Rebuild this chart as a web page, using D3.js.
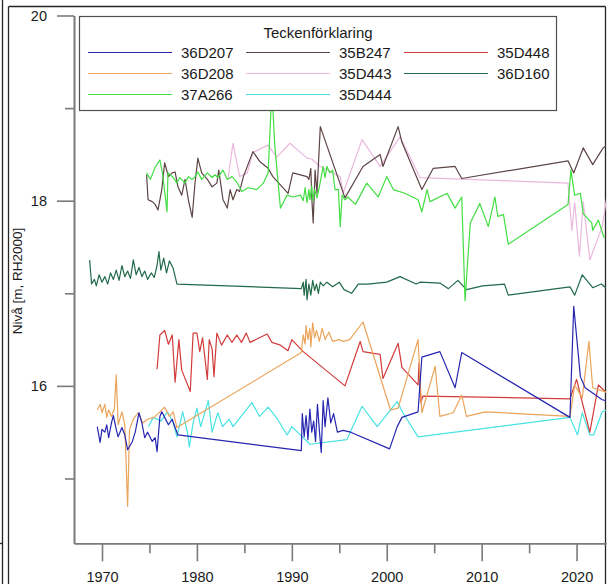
<!DOCTYPE html>
<html>
<head>
<meta charset="utf-8">
<script src="https://cdn.jsdelivr.net/npm/d3@7"></script>
<style>
  body { margin: 0; background: #fff; }
  svg { display: block; font-family: "Liberation Sans", Arial, sans-serif; }
</style>
</head>
<body>
<div id="chart"></div>
<script>
// stations, in legend order (row by row)
const stations = ["36D207", "35B247", "35D448", "36D208", "35D443", "36D160", "37A266", "35D444"];

// [year, level m RH2000]
const s36D207 = [[1969.5,15.56],[1969.8,15.39],[1970.0,15.53],[1970.3,15.5],[1970.5,15.58],[1970.7,15.44],[1971.0,15.6],[1971.2,15.68],[1971.5,15.53],[1971.7,15.45],[1972.1,15.55],[1972.4,15.47],[1972.7,15.31],[1973.2,15.4],[1973.5,15.5],[1973.9,15.71],[1974.2,15.6],[1974.5,15.44],[1974.8,15.5],[1975.3,15.4],[1975.6,15.44],[1975.8,15.29],[1976.1,15.67],[1976.3,15.72],[1976.6,15.66],[1977.0,15.58],[1977.4,15.64],[1977.7,15.55],[1978.0,15.47],
  [1991.0,15.3],[1991.1,15.7],[1991.3,15.45],[1991.5,15.68],[1991.7,15.42],[1991.9,15.75],[1992.1,15.5],[1992.3,15.62],[1992.5,15.4],[1992.7,15.8],[1992.9,15.52],[1993.1,15.28],[1993.3,15.84],[1993.5,15.56],[1993.8,15.87],[1994.1,15.6],[1994.4,15.7],[1994.8,15.5],[1995.4,15.52],[1996.2,15.5],
  [2000.3,15.32],[2001.1,15.56],[2001.6,15.66],[2003.3,15.72],[2003.7,16.31],[2005.6,16.37],[2007.2,15.98],[2007.9,16.36],[2019.3,15.66],[2019.7,16.86],[2020.4,16.1],[2020.9,15.98],[2022.7,15.85],[2023.2,15.84]];

const s36D208 = [[1969.5,15.74],[1969.8,15.8],[1970.0,15.71],[1970.3,15.8],[1970.5,15.66],[1970.7,15.74],[1971.0,15.67],[1971.3,15.75],[1971.5,16.12],[1971.7,15.58],[1972.1,15.72],[1972.4,15.58],[1972.7,14.7],[1972.9,15.53],[1973.3,15.64],[1973.8,15.71],[1974.3,15.6],[1974.8,15.64],[1975.5,15.66],[1976.1,15.72],[1976.6,15.77],[1977.1,15.67],[1977.5,15.72],[1977.9,15.55],
  [1991.0,16.36],[1991.2,16.55],[1991.4,16.45],[1991.5,16.65],[1991.7,16.5],[1991.9,16.62],[1992.0,16.42],[1992.2,16.68],[1992.4,16.52],[1992.6,16.6],[1992.9,16.48],[1993.2,16.62],[1993.5,16.5],[1993.9,16.58],[1994.3,16.48],[1995.0,16.5],[1995.4,16.48],[1996.1,16.5],[1997.5,16.69],
  [2000.4,15.74],[2001.2,15.76],[2003.3,16.5],[2003.7,15.71],[2005.1,16.21],[2005.6,15.67],[2007.0,15.71],[2007.9,15.9],[2008.4,15.67],[2010.4,15.72],[2019.3,15.67],[2019.8,16.01],[2020.6,15.87],[2021.3,16.48],[2021.7,15.98],[2023.2,15.93]];

const s35D448 = [[1975.8,16.18],[1976.1,16.55],[1976.6,16.6],[1977.0,16.45],[1977.4,16.55],[1977.7,16.04],[1978.1,16.5],[1978.4,16.17],[1979.3,15.94],[1979.6,16.57],[1980.0,16.57],[1980.3,16.37],[1980.6,16.52],[1981.1,16.07],[1981.3,16.5],[1981.6,16.4],[1981.8,16.1],[1982.1,16.57],[1982.6,16.44],[1983.2,16.55],[1983.7,16.47],[1984.2,16.55],[1984.7,16.47],[1985.2,16.57],[1985.6,16.47],[1987.4,16.56],[1987.9,16.47],[1988.8,16.44],[1989.6,16.38],[1990.0,16.5],[1991.2,16.37],
  [1995.6,16.0],[1997.2,16.48],[1997.5,16.37],[1999.3,16.34],[1999.6,16.08],[2001.2,16.46],[2001.6,16.2],[2003.3,16.01],[2003.4,16.25],[2003.6,15.82],[2003.8,15.89],[2019.3,15.86],[2020.0,16.07],[2020.7,15.78],[2021.4,15.5],[2022.3,16.01],[2023.2,15.92]];

const s35B247 = [[1974.7,18.28],[1974.85,18.01],[1975.3,17.99],[1975.6,17.96],[1975.9,17.9],[1976.3,18.12],[1976.6,18.41],[1977.0,18.26],[1977.4,18.3],[1977.7,18.31],[1978.0,18.15],[1978.4,18.06],[1978.75,18.23],[1979.1,18.01],[1979.5,17.82],[1979.8,18.19],[1980.1,18.46],[1980.5,18.3],[1981.1,18.23],[1981.6,18.15],[1982.1,18.19],[1982.3,18.33],[1982.75,18.01],[1983.2,17.92],[1983.5,18.12],[1983.8,18.01],[1984.2,18.12],[1984.5,18.1],[1984.9,18.26],[1985.9,18.53],[1986.65,18.42],[1987.5,18.35],[1988.0,18.26],[1989.6,18.08],[1990.1,18.3],
  [1991.6,18.26],[1991.8,18.23],[1992.0,18.35],[1992.1,18.04],[1992.25,17.76],[1992.45,18.33],[1992.65,18.08],[1993.0,18.8],[1995.6,18.03],[1997.5,18.37],[1999.3,18.5],[1999.6,18.37],[2001.2,18.8],[2001.6,18.63],[2003.7,18.12],[2004.9,18.35],[2007.2,18.37],[2007.9,18.24],[2019.1,18.43],[2019.7,18.3],[2020.7,18.57],[2021.7,18.39],[2022.8,18.57],[2023.2,18.6]];

const s35D443 = [[1983.3,18.25],[1983.8,18.62],[1984.5,18.26],[1985.3,18.3],[1985.9,18.52],[1987.5,18.6],[1988.4,18.47],[1989.8,18.62],[1991.6,18.46],[1992.1,18.45],[1993.0,18.37],[1995.1,18.26],[1995.4,18.08],[1997.4,18.66],[1999.3,18.37],[2001.4,18.69],[2003.5,18.25],[2019.1,18.19],[2019.5,17.68],[2019.8,17.98],[2020.3,17.4],[2020.7,17.99],[2021.4,17.36],[2022.7,17.72],[2023.2,18.05]];

const s36D160 = [[1968.7,17.36],[1968.9,17.1],[1969.2,17.15],[1969.4,17.08],[1969.7,17.2],[1970.0,17.12],[1970.3,17.18],[1970.6,17.1],[1970.9,17.22],[1971.2,17.15],[1971.5,17.25],[1971.8,17.14],[1972.1,17.3],[1972.4,17.18],[1972.7,17.24],[1973.0,17.16],[1973.3,17.36],[1973.6,17.2],[1973.9,17.28],[1974.2,17.18],[1974.5,17.24],[1974.8,17.15],[1975.2,17.22],[1975.5,17.17],[1975.8,17.3],[1976.0,17.45],[1976.2,17.25],[1976.5,17.38],[1976.8,17.22],[1977.1,17.35],[1977.5,17.27],[1977.9,17.1],
  [1991.0,17.05],[1991.2,17.12],[1991.3,16.98],[1991.5,17.15],[1991.6,16.93],[1991.8,17.1],[1992.0,16.98],[1992.2,17.14],[1992.4,17.03],[1992.6,17.1],[1992.8,17.0],[1993.0,17.12],[1993.3,17.08],[1993.7,17.12],[1994.3,17.07],[1995.0,17.12],[1995.5,17.04],[1996.3,17.0],[1997.0,17.1],[1998.0,17.1],[2000.0,17.12],[2001.4,17.18],[2003.1,17.1],[2003.5,17.12],[2005.6,17.11],[2006.5,17.05],[2007.5,17.14],[2008.4,17.04],[2010.1,17.08],[2012.4,17.1],[2012.8,16.98],[2019.3,17.07],[2019.8,16.98],[2020.6,17.2],[2021.7,17.06],[2022.6,17.1],[2023.2,17.05]];

const s37A266 = [[1974.7,18.3],[1975.1,18.23],[1975.6,18.36],[1976.1,18.44],[1976.4,18.28],[1976.85,17.88],[1976.95,18.3],[1977.5,18.25],[1977.9,18.19],[1978.2,18.25],[1978.75,18.19],[1979.1,18.26],[1979.5,18.23],[1979.8,18.26],[1980.1,18.31],[1980.5,18.23],[1981.1,18.3],[1981.6,18.25],[1981.9,18.28],[1982.2,18.25],[1982.75,18.33],[1983.2,18.23],[1983.7,18.26],[1984.2,18.2],[1984.75,18.1],[1985.4,18.14],[1986.3,18.12],[1987.0,18.19],[1987.5,18.3],[1987.9,19.2],[1988.2,18.6],[1988.8,17.92],[1989.5,18.06],[1990.1,18.04],[1990.9,18.06],
  [1991.2,18.0],[1991.4,18.14],[1991.6,17.98],[1991.8,18.12],[1991.9,18.01],[1992.1,18.16],[1992.2,18.0],[1992.4,18.12],[1992.65,18.03],[1992.9,18.15],[1993.3,18.37],[1993.5,18.25],[1993.7,18.37],[1994.0,18.3],[1994.3,18.33],[1994.55,18.12],[1994.9,18.12],[1995.1,17.72],[1995.3,18.06],[1995.6,18.01],[1995.9,18.04],[1996.7,17.96],[1997.9,18.19],[1999.1,18.04],[2000.0,18.26],[2000.7,18.12],[2001.9,18.08],[2003.3,18.01],[2003.7,17.88],[2004.25,18.12],[2004.56,17.99],[2006.35,18.08],[2007.2,17.92],[2007.9,18.04],[2008.25,16.92],[2008.8,17.76],[2009.8,17.97],[2010.7,17.72],[2011.4,18.04],[2011.7,17.83],[2012.3,17.85],[2012.8,17.53],[2019.1,17.96],[2019.4,18.33],[2019.8,18.06],[2020.4,18.08],[2020.7,17.86],[2021.6,17.76],[2021.7,17.68],[2022.3,17.79],[2022.9,17.6]];

const s35D444 = [[1974.9,15.56],[1975.4,15.66],[1976.2,15.62],[1976.9,15.72],[1977.5,15.6],[1977.9,15.45],[1978.5,15.72],[1979.0,15.5],[1979.2,15.34],[1979.6,15.6],[1980.0,15.76],[1980.4,15.56],[1981.2,15.84],[1981.6,15.5],[1982.2,15.71],[1982.7,15.56],[1983.4,15.64],[1983.8,15.56],[1985.8,15.82],[1986.6,15.67],[1987.5,15.77],[1988.5,15.64],[1989.5,15.47],[1990.0,15.56],[1991.0,15.46],[1991.9,15.37],
  [1995.8,15.42],[1997.4,15.78],[1999.0,15.56],[2001.1,15.83],[2001.7,15.71],[2003.3,15.45],[2019.3,15.66],[2020.1,15.47],[2020.6,15.71],[2021.4,15.47],[2021.8,15.47],[2022.7,15.72],[2023.2,15.74]];

const xTicksMajor = [1970, 1980, 1990, 2000, 2010, 2020];
const xTicksMinor = [1975, 1985, 1995, 2005, 2015];
const yTicksMajor = [20, 18, 16];
const yTicksMinor = [19, 17, 15];

// lookup + styling
const seriesByName = {
  "36D207": s36D207, "35B247": s35B247, "35D448": s35D448, "36D208": s36D208,
  "35D443": s35D443, "36D160": s36D160, "37A266": s37A266, "35D444": s35D444
};
const color = d3.scaleOrdinal()
  .domain(stations)
  .range(["#2525b0", "#5e4545", "#d23c3c", "#eba45a", "#ebb8de", "#226b4a", "#42de42", "#48e2e2"]);
const drawOrder = ["36D160", "35D443", "35B247", "37A266", "35D444", "35D448", "36D208", "36D207"];

var width = 608, height = 584;
var plot = { left: 74, right: 606, top: 15.5, bottom: 543.3 };

var svg = d3.select("#chart").append("svg")
  .attr("width", width)
  .attr("height", height);

svg.append("rect").attr("width", width).attr("height", height).attr("fill", "#fff");

// outer frame lines
var frame = svg.append("g").attr("stroke", "#262626").attr("stroke-width", 1.3).attr("fill", "none");
frame.append("line").attr("x1", 2.5).attr("x2", 2.5).attr("y1", 0).attr("y2", height);
frame.append("line").attr("x1", 8.5).attr("x2", 8.5).attr("y1", 6.5).attr("y2", height);
frame.append("line").attr("x1", 8.5).attr("x2", 605.5).attr("y1", 6.5).attr("y2", 6.5);
frame.append("line").attr("x1", 605.5).attr("x2", 605.5).attr("y1", 6.5).attr("y2", height);
frame.append("line").attr("x1", 0).attr("x2", 2.5).attr("y1", 543.5).attr("y2", 543.5);

var x = d3.scaleLinear().domain([1967.05, 2023.1]).range([plot.left, plot.right]);
var y = d3.scaleLinear().domain([14.3, 20]).range([plot.bottom, plot.top]);

svg.append("clipPath").attr("id", "clip")
  .append("rect")
  .attr("x", plot.left).attr("y", plot.top)
  .attr("width", plot.right - plot.left).attr("height", plot.bottom - plot.top);

var line = d3.line()
  .x(function (d) { return x(d[0]); })
  .y(function (d) { return y(d[1]); });

var lines = svg.append("g").attr("clip-path", "url(#clip)");
drawOrder.forEach(function (name) {
  lines.append("path")
    .datum(seriesByName[name])
    .attr("d", line)
    .attr("fill", "none")
    .attr("stroke", color(name))
    .attr("stroke-width", 1.2)
    .attr("stroke-linejoin", "round");
});

// axes
var axisColor = "#7a7a7a";
function styleAxis(g) {
  g.select(".domain").attr("stroke", axisColor).attr("stroke-width", 1.6);
  g.selectAll(".tick line").attr("stroke", axisColor).attr("stroke-width", 1.6);
  g.selectAll(".tick text").attr("fill", "#1a1a1a").style("font-size", "14.5px")
    .style("font-family", "'Liberation Sans', Arial, sans-serif");
}

svg.append("g")
  .attr("transform", "translate(0," + plot.bottom + ")")
  .call(d3.axisBottom(x).tickValues(xTicksMinor).tickSize(10).tickSizeOuter(0).tickFormat(""))
  .call(styleAxis);
svg.append("g")
  .attr("transform", "translate(0," + plot.bottom + ")")
  .call(d3.axisBottom(x).tickValues(xTicksMajor).tickSize(18).tickSizeOuter(0).tickPadding(10.5).tickFormat(d3.format("d")))
  .call(styleAxis);

svg.append("g")
  .attr("transform", "translate(" + plot.left + ",0)")
  .call(d3.axisLeft(y).tickValues(yTicksMinor).tickSize(9).tickSizeOuter(0).tickFormat(""))
  .call(styleAxis);
svg.append("g")
  .attr("transform", "translate(" + plot.left + ",0)")
  .call(d3.axisLeft(y).tickValues(yTicksMajor).tickSize(17).tickSizeOuter(0).tickPadding(10).tickFormat(d3.format("d")))
  .call(styleAxis);

svg.append("text")
  .attr("transform", "translate(22,281) rotate(-90)")
  .attr("text-anchor", "middle")
  .style("font-size", "13.5px")
  .attr("fill", "#1a1a1a")
  .text("Nivå [m, RH2000]");

// legend
var legend = svg.append("g");
legend.append("rect")
  .attr("x", 79.5).attr("y", 16.5).attr("width", 477).attr("height", 94)
  .attr("fill", "#fff").attr("stroke", "#505050").attr("stroke-width", 1.2);
legend.append("text")
  .attr("x", 318).attr("y", 38)
  .attr("text-anchor", "middle")
  .style("font-size", "15px").attr("fill", "#1a1a1a")
  .text("Teckenförklaring");

var colX = [88, 246, 404], rowY = [52.5, 73.5, 94.5];
stations.forEach(function (name, i) {
  var cx = colX[i % 3], cy = rowY[Math.floor(i / 3)];
  legend.append("line")
    .attr("x1", cx).attr("x2", cx + 84).attr("y1", cy).attr("y2", cy)
    .attr("stroke", color(name)).attr("stroke-width", 1.2);
  legend.append("text")
    .attr("x", cx + 93).attr("y", cy + 5.3)
    .style("font-size", "15px").attr("fill", "#1a1a1a")
    .text(name);
});
</script>
</body>
</html>
